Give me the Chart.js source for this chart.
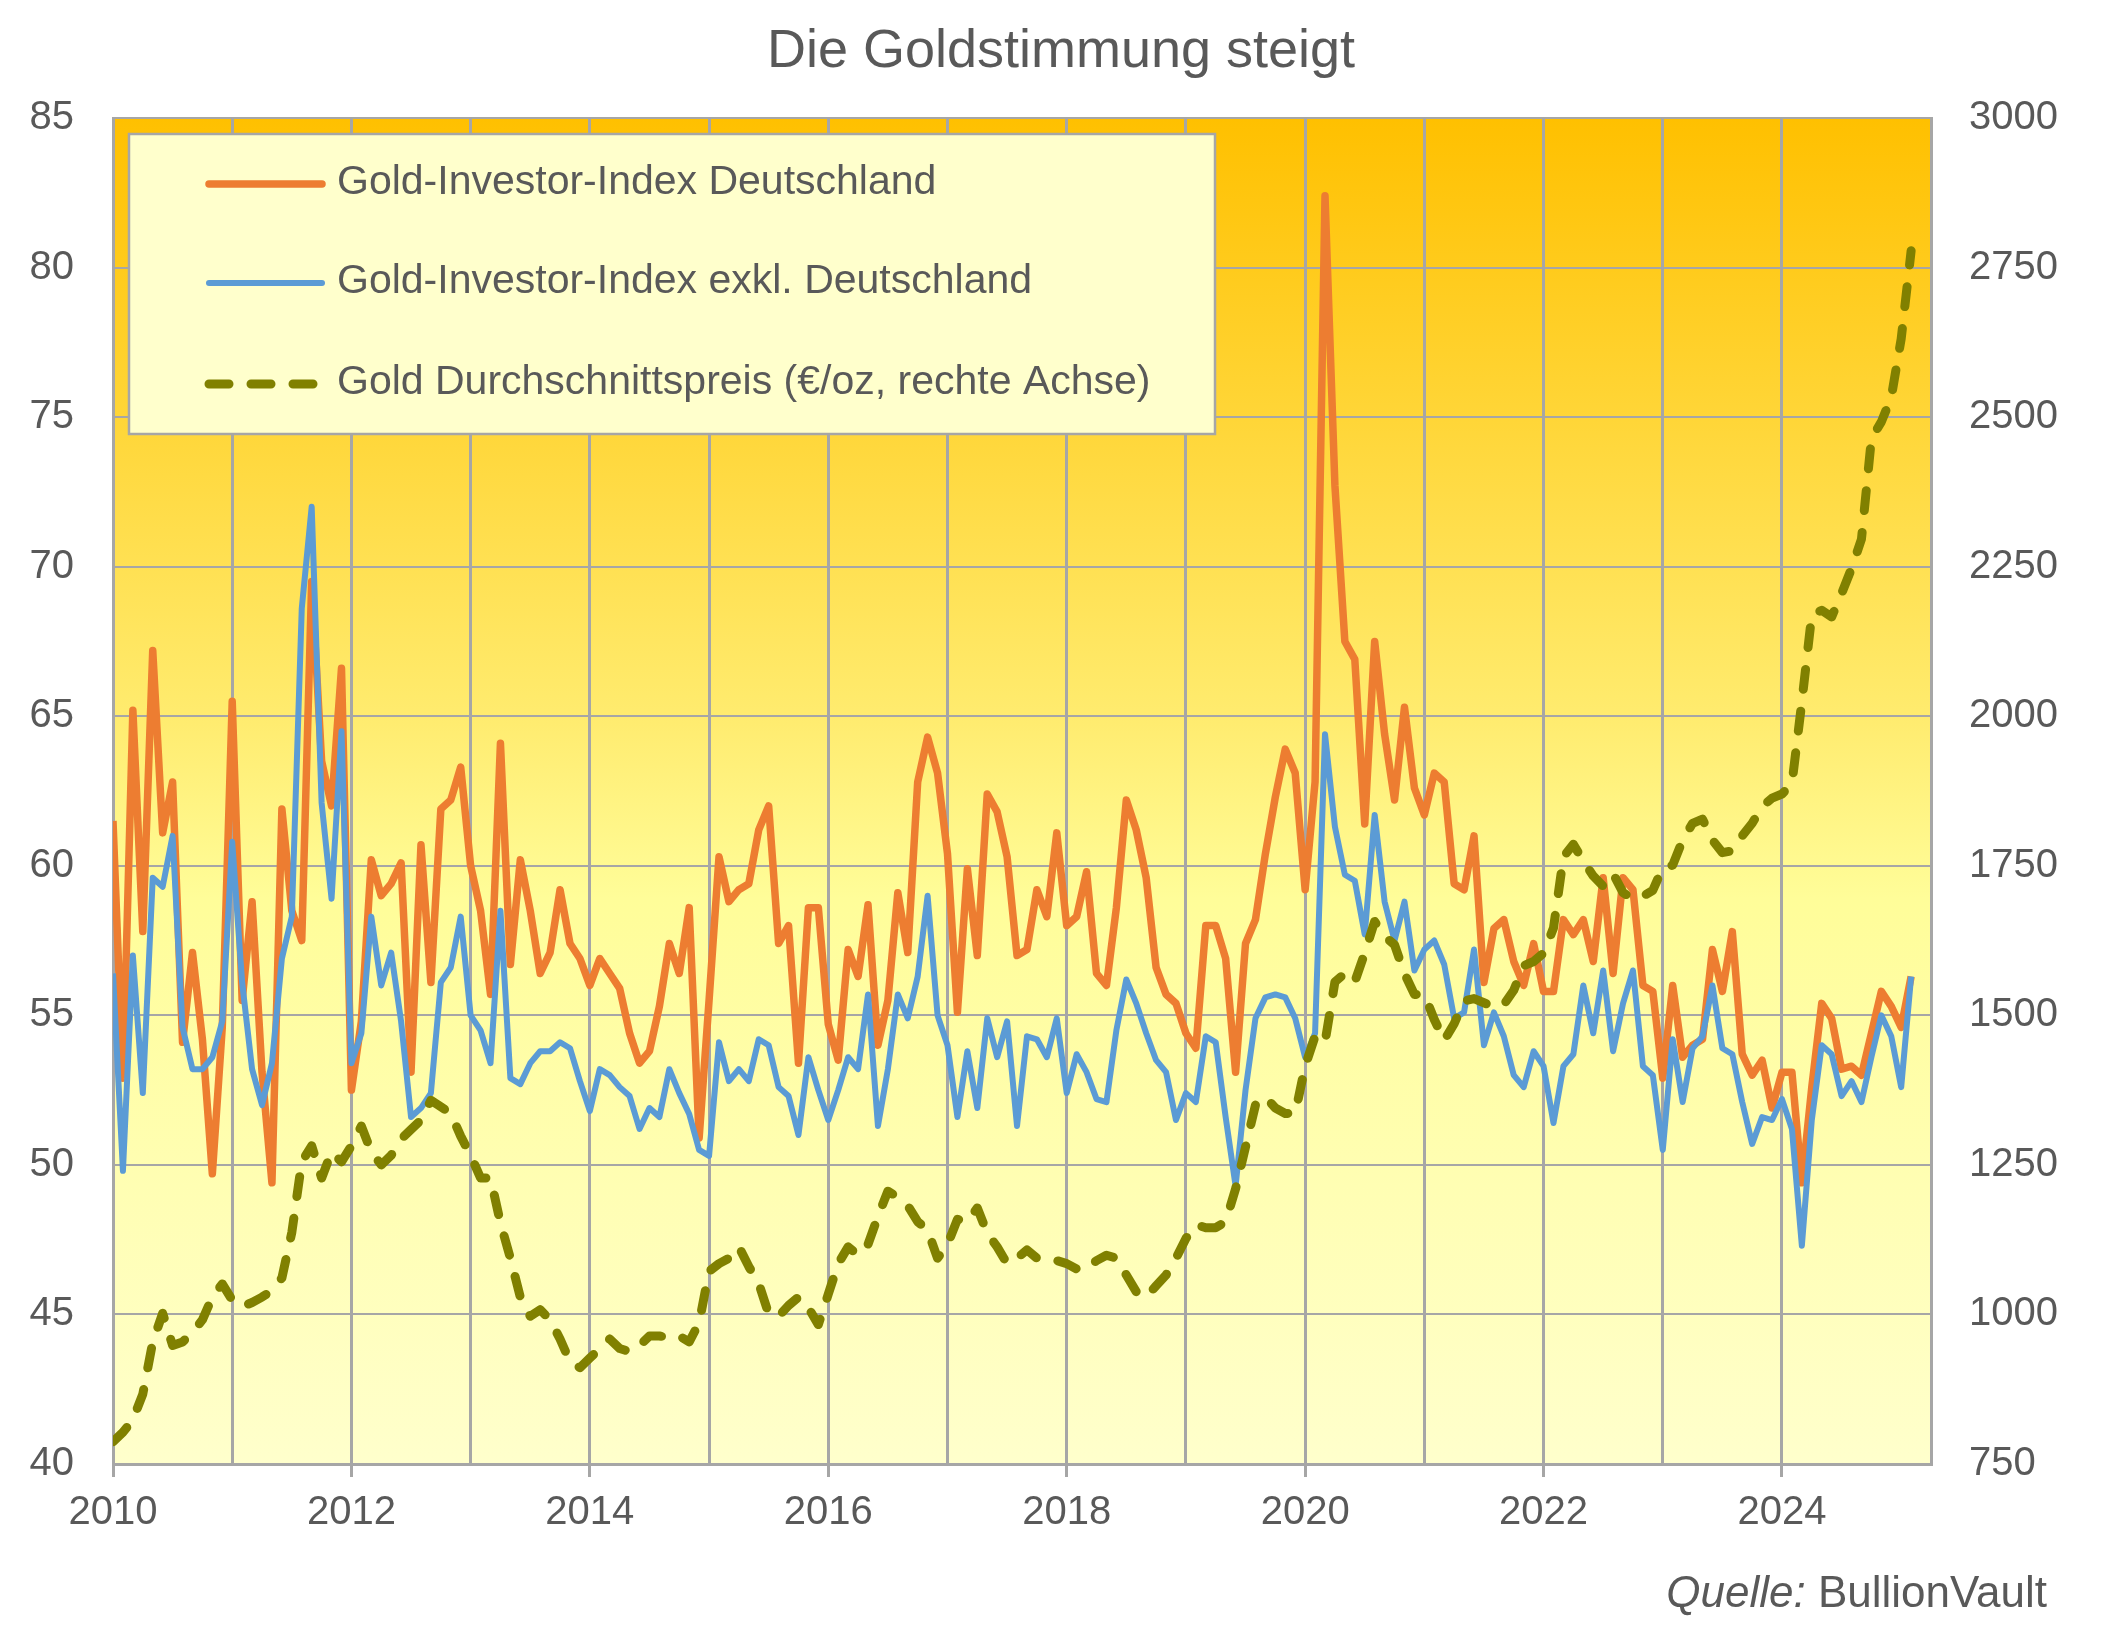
<!DOCTYPE html>
<html>
<head>
<meta charset="utf-8">
<title>Die Goldstimmung steigt</title>
<script src="https://cdn.jsdelivr.net/npm/chart.js@4.4.1/dist/chart.umd.min.js"></script>
<style>
  html, body { margin: 0; padding: 0; background: #ffffff; }
  canvas { display: block; }
</style>
</head>
<body>
<canvas id="chart" width="2108" height="1631"></canvas>
<script>
// monthly values, Jan 2010 .. Feb 2025
var giiDeutschland = [
    61.5, 52.9, 65.2, 57.8, 67.2, 61.1, 62.8, 54.1, 57.1, 54.2, 49.7, 54.6,
    65.5, 55.5, 58.8, 53.1, 49.4, 61.9, 58.5, 57.5, 69.5, 63.5, 62.0, 66.6,
    52.5, 54.8, 60.2, 59.0, 59.4, 60.1, 53.1, 60.7, 56.1, 61.9, 62.2, 63.3,
    60.0, 58.5, 55.7, 64.1, 56.7, 60.2, 58.5, 56.4, 57.1, 59.2, 57.4, 56.9,
    56.0, 56.9, 56.4, 55.9, 54.4, 53.4, 53.8, 55.3, 57.4, 56.4, 58.6, 50.9,
    55.5, 60.3, 58.8, 59.2, 59.4, 61.2, 62.0, 57.4, 58.0, 53.4, 58.6, 58.6,
    54.7, 53.5, 57.2, 56.3, 58.7, 54.0, 55.5, 59.1, 57.1, 62.8, 64.3, 63.1,
    60.4, 55.1, 59.9, 57.0, 62.4, 61.8, 60.3, 57.0, 57.2, 59.2, 58.3, 61.1,
    58.0, 58.3, 59.8, 56.4, 56.0, 58.6, 62.2, 61.2, 59.6, 56.6, 55.7, 55.4,
    54.4, 53.9, 58.0, 58.0, 56.9, 53.1, 57.4, 58.2, 60.4, 62.3, 63.9, 63.1,
    59.2, 62.8, 82.4, 72.7, 67.5, 66.9, 61.4, 67.5, 64.4, 62.2, 65.3, 62.6,
    61.7, 63.1, 62.8, 59.4, 59.2, 61.0, 56.1, 57.9, 58.2, 56.8, 56.0, 57.4,
    55.8, 55.8, 58.2, 57.7, 58.2, 56.8, 59.6, 56.4, 59.6, 59.2, 56.0, 55.8,
    52.9, 56.0, 53.6, 54.0, 54.2, 57.2, 55.8, 57.8, 53.7, 53.0, 53.5, 51.9,
    53.1, 53.1, 49.4, 52.6, 55.4, 54.9, 53.2, 53.3, 53.0, 54.4, 55.8, 55.3,
    54.6, 56.3
];

var giiExDeutschland = [
    56.4, 49.8, 57.0, 52.4, 59.6, 59.3, 61.0, 54.6, 53.2, 53.2, 53.6, 54.8,
    60.8, 56.1, 53.2, 52.0, 53.4, 56.9, 58.3, 68.6, 72.0, 62.1, 58.9, 64.5,
    53.4, 54.4, 58.3, 56.0, 57.1, 54.8, 51.6, 51.9, 52.4, 56.1, 56.6, 58.3,
    55.0, 54.5, 53.4, 58.5, 52.9, 52.7, 53.4, 53.8, 53.8, 54.1, 53.9, 52.8,
    51.8, 53.2, 53.0, 52.6, 52.3, 51.2, 51.9, 51.6, 53.2, 52.4, 51.7, 50.5,
    50.3, 54.1, 52.8, 53.2, 52.8, 54.2, 54.0, 52.6, 52.3, 51.0, 53.6, 52.5,
    51.5, 52.5, 53.6, 53.2, 55.7, 51.3, 53.2, 55.7, 54.9, 56.3, 59.0, 55.0,
    54.0, 51.6, 53.8, 51.9, 54.9, 53.6, 54.8, 51.3, 54.3, 54.2, 53.6, 54.9,
    52.4, 53.7, 53.1, 52.2, 52.1, 54.5, 56.2, 55.4, 54.4, 53.5, 53.1, 51.5,
    52.4, 52.1, 54.3, 54.1, 51.6, 49.3, 52.5, 54.9, 55.6, 55.7, 55.6, 54.9,
    53.6, 54.4, 64.4, 61.3, 59.7, 59.5, 57.7, 61.7, 58.8, 57.5, 58.8, 56.5,
    57.2, 57.5, 56.7, 54.9, 55.1, 57.2, 54.0, 55.1, 54.3, 53.0, 52.6, 53.8,
    53.3, 51.4, 53.3, 53.7, 56.0, 54.4, 56.5, 53.8, 55.4, 56.5, 53.3, 53.0,
    50.5, 54.2, 52.1, 53.9, 54.3, 56.0, 53.9, 53.7, 52.1, 50.7, 51.6, 51.5,
    52.2, 51.2, 47.3, 51.5, 54.0, 53.7, 52.3, 52.8, 52.1, 53.6, 55.0, 54.3,
    52.6, 56.3
];

// EUR per ounce, right axis
var goldPriceEur = [
    787, 803, 824, 867, 954, 1002, 948, 954, 970, 991, 1029, 1051,
    1024, 1013, 1020, 1029, 1040, 1061, 1137, 1255, 1282, 1228, 1272, 1255,
    1282, 1315, 1272, 1250, 1266, 1293, 1309, 1325, 1358, 1347, 1336, 1298,
    1266, 1228, 1228, 1153, 1094, 1029, 997, 1008, 991, 959, 921, 911,
    927, 943, 959, 943, 938, 948, 964, 964, 961, 964, 954, 986,
    1072, 1085, 1094, 1113, 1080, 1052, 1001, 997, 1015, 1029, 1011, 983,
    1034, 1085, 1113, 1099, 1117, 1164, 1206, 1196, 1182, 1155, 1141, 1094,
    1117, 1159, 1155, 1178, 1136, 1113, 1085, 1094, 1108, 1094, 1090, 1090,
    1085, 1076, 1076, 1090, 1099, 1094, 1066, 1038, 1029, 1048, 1066, 1094,
    1127, 1150, 1145, 1145, 1155, 1210, 1280, 1350, 1364, 1345, 1336, 1336,
    1415, 1465, 1455, 1556, 1570, 1556, 1604, 1657, 1632, 1618, 1570, 1535,
    1535, 1493, 1458, 1486, 1524, 1528, 1521, 1514, 1518, 1542, 1583, 1590,
    1604, 1646, 1765, 1786, 1758, 1733, 1716, 1737, 1705, 1695, 1699, 1709,
    1747, 1751, 1793, 1821, 1828, 1793, 1772, 1775, 1800, 1821, 1849, 1863,
    1870, 1887, 2024, 2170, 2177, 2166, 2205, 2247, 2296, 2464, 2492, 2533,
    2631, 2778
];

var startYear = 2010;
var yearLabels = [2010, 2012, 2014, 2016, 2018, 2020, 2022, 2024];
var seriesNames = [
    'Gold-Investor-Index Deutschland',
    'Gold-Investor-Index exkl. Deutschland',
    'Gold Durchschnittspreis (€/oz, rechte Achse)'
];

// month positions on the time axis (Jan 2010 = 2010.0)
var monthPos = [];
for (var i = 0; i < giiDeutschland.length; i++) {
    monthPos.push(startYear + i / 12);
}

var FONT = '"Liberation Sans", Arial, sans-serif';
var TEXT = '#595959';
var GRID = '#A6A6A6';

/**
 * plot background: orange at the top fading to pale yellow
 */
var backgroundPlugin = {
    id: 'bg',
    beforeDraw: function(chart) {
        var a = chart.chartArea;
        var c = chart.ctx;
        var g = c.createLinearGradient(0, a.top, 0, a.bottom);
        g.addColorStop(0, '#FFC000');
        g.addColorStop(0.45, '#FFEC70');
        g.addColorStop(0.58, '#FFFD99');
        g.addColorStop(1, '#FFFFCC');
        c.save();
        c.fillStyle = g;
        c.fillRect(a.left, a.top, a.right - a.left, a.bottom - a.top);
        c.restore();
    }
};

/**
 * title, legend box and source note
 */
var textPlugin = {
    id: 'texts',
    afterDraw: function(chart) {
        var c = chart.ctx;
        c.save();

        // title
        c.fillStyle = TEXT;
        c.font = '54px ' + FONT;
        c.textAlign = 'center';
        c.textBaseline = 'alphabetic';
        c.fillText('Die Goldstimmung steigt', 1061, 67);

        // legend box
        c.fillStyle = '#FFFFCC';
        c.fillRect(129, 134, 1086, 300);
        c.strokeStyle = GRID;
        c.lineWidth = 2.5;
        c.strokeRect(129, 134, 1086, 300);

        var rows = [184, 283, 384];
        chart.data.datasets.forEach(function(ds, k) {
            c.beginPath();
            c.strokeStyle = ds.borderColor;
            c.lineWidth = ds.borderWidth;
            c.lineCap = 'round';
            c.setLineDash(ds.borderDash || []);
            c.moveTo(209, rows[k]);
            c.lineTo(ds.borderDash ? 313 : 322, rows[k]);
            c.stroke();
            c.setLineDash([]);
            c.fillStyle = TEXT;
            c.font = '41px ' + FONT;
            c.textAlign = 'left';
            c.textBaseline = 'middle';
            c.fillText(ds.label, 337, rows[k] - 1);
        });

        // source
        c.textBaseline = 'alphabetic';
        c.textAlign = 'right';
        c.font = '44px ' + FONT;
        c.fillStyle = TEXT;
        c.fillText(' BullionVault', 2047, 1607);
        var w = c.measureText(' BullionVault').width;
        c.font = 'italic 44px ' + FONT;
        c.fillText('Quelle:', 2047 - w, 1607);

        c.restore();
    }
};

var ctx = document.getElementById('chart').getContext('2d');
new Chart(ctx, {
    type: 'line',
    data: {
        labels: monthPos,
        datasets: [
            {
                label: seriesNames[0],
                data: giiDeutschland,
                borderColor: '#ED7D31',
                borderWidth: 7.5,
                yAxisID: 'y',
                order: 2
            },
            {
                label: seriesNames[1],
                data: giiExDeutschland,
                borderColor: '#5B9BD5',
                borderWidth: 6,
                yAxisID: 'y',
                order: 1
            },
            {
                label: seriesNames[2],
                data: goldPriceEur,
                borderColor: '#808000',
                borderWidth: 9,
                borderDash: [20, 22],
                borderCapStyle: 'round',
                yAxisID: 'y1',
                order: 0
            }
        ]
    },
    options: {
        responsive: false,
        animation: false,
        devicePixelRatio: 1,
        layout: { padding: { top: 118, left: 0, right: 0, bottom: 0 } },
        elements: {
            point: { radius: 0 },
            line: { tension: 0, borderJoinStyle: 'round', fill: false }
        },
        plugins: {
            legend: { display: false },
            title: { display: false },
            tooltip: { enabled: false }
        },
        scales: {
            x: {
                type: 'linear',
                min: 2010,
                max: 2025.25,
                afterFit: function(s) { s.height = 167; },
                ticks: {
                    stepSize: 1,
                    autoSkip: false,
                    maxRotation: 0,
                    padding: 12,
                    color: TEXT,
                    font: { family: FONT, size: 40 },
                    callback: function(v) {
                        return yearLabels.indexOf(v) >= 0 ? String(v) : '';
                    }
                },
                grid: {
                    color: GRID,
                    lineWidth: 3,
                    tickLength: 13,
                    // short tick marks only below the labelled years
                    tickColor: function(c) {
                        return c.tick && yearLabels.indexOf(c.tick.value) >= 0 ? GRID : 'rgba(0,0,0,0)';
                    }
                },
                border: { color: GRID, width: 3 }
            },
            y: {
                position: 'left',
                min: 40,
                max: 85,
                afterFit: function(s) { s.width = 113; },
                ticks: {
                    stepSize: 5,
                    padding: 39,
                    color: TEXT,
                    font: { family: FONT, size: 40 }
                },
                grid: { color: GRID, lineWidth: 2, drawTicks: false },
                border: { color: GRID, width: 3 }
            },
            y1: {
                position: 'right',
                min: 750,
                max: 3000,
                afterFit: function(s) { s.width = 177; },
                ticks: {
                    stepSize: 250,
                    padding: 38,
                    color: TEXT,
                    font: { family: FONT, size: 40 },
                    callback: function(v) { return String(v); }
                },
                grid: { drawOnChartArea: false, drawTicks: false },
                border: { color: GRID, width: 3 }
            }
        }
    },
    plugins: [backgroundPlugin, textPlugin]
});
</script>
</body>
</html>
